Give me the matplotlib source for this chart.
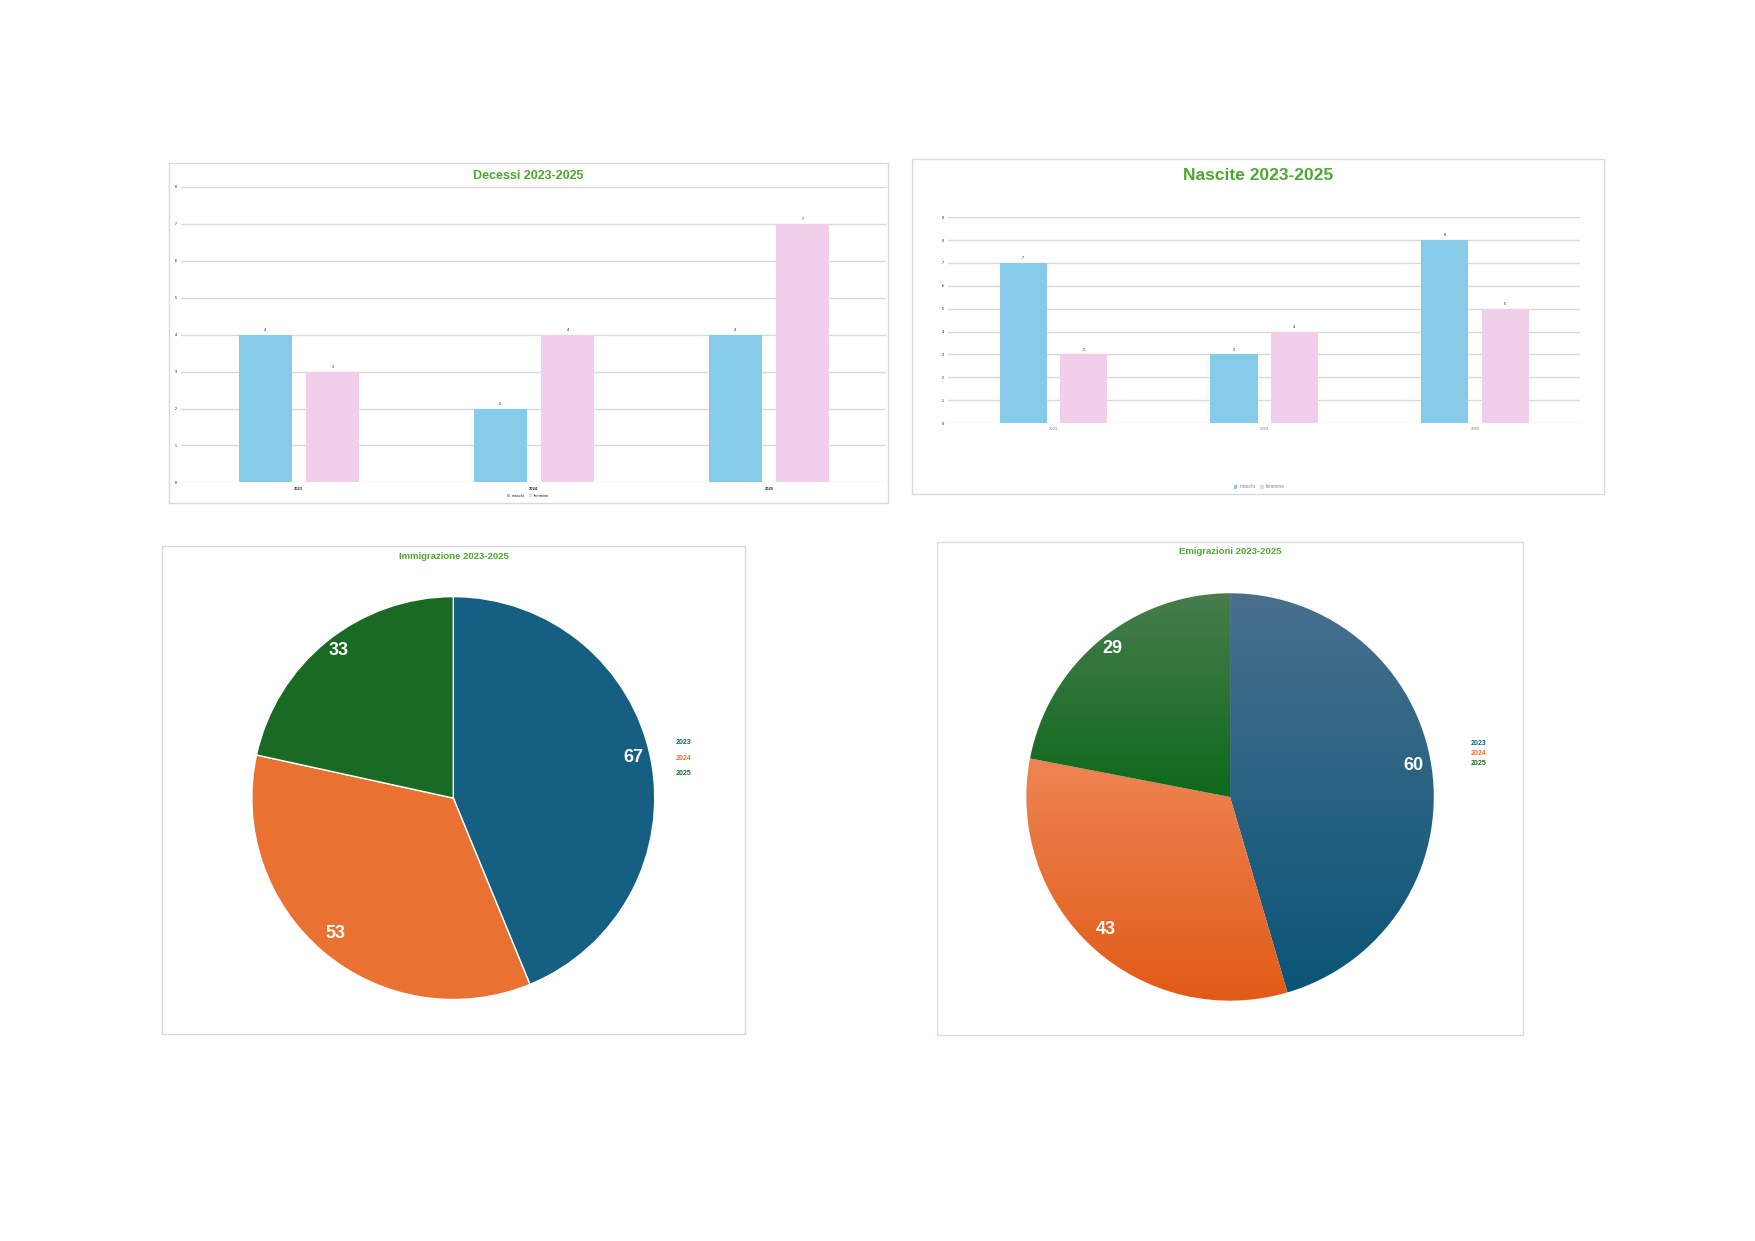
import matplotlib
matplotlib.use("Agg")
import matplotlib.pyplot as plt
from matplotlib.patches import Rectangle
from matplotlib.colors import to_rgb
import numpy as np

plt.rcParams['font.family'] = ['Liberation Sans', 'DejaVu Sans']

# data
anni = ['2023', '2024', '2025']
decessi_maschi = [4, 2, 4]
decessi_femmine = [3, 4, 7]
nascite_maschi = [7, 3, 8]
nascite_femmine = [3, 4, 5]
immigrazione = [67, 53, 33]
emigrazioni = [60, 43, 29]
serie = ['maschi', 'femmine']

# colours
BLU_BAR = '#87cbea'
ROSA_BAR = '#f1cfeb'
VERDE_TIT = '#4ea72e'
PIE_COL = ['#156082', '#e97132', '#196b24']
GRAD_TOP = ['#48708d', '#ee8454', '#487d4d']
GRAD_BOT = ['#0a5577', '#e05b16', '#0d691b']
GRID = '#d9d9d9'

# layout is measured on a 1568 px wide copy of the page
W, H = 1568.0, 1108.7


def fx(x):
    return x / W


def fy(y):
    return 1 - y / H


def box(x0, y0, x1, y1):
    return [fx(x0), fy(y1), fx(x1) - fx(x0), fy(y0) - fy(y1)]


fig = plt.figure(figsize=(17.55, 12.41), dpi=100)
fig.patch.set_facecolor('white')


def cornice(x0, y0, x1, y1, col=GRID):
    fig.patches.append(Rectangle((fx(x0), fy(y1)), fx(x1) - fx(x0), fy(y0) - fy(y1),
                                 transform=fig.transFigure, fill=False, ec=col, lw=1.0))


def barre(rect, maschi, femmine, ymax, lab_w, tick_col):
    ax = fig.add_axes(rect)
    x = np.arange(len(anni))
    w = 0.224
    off = 0.143
    b1 = ax.bar(x - off, maschi, w, color=BLU_BAR, label=serie[0], zorder=2)
    b2 = ax.bar(x + off, femmine, w, color=ROSA_BAR, label=serie[1], zorder=2)
    for bars in (b1, b2):
        ax.bar_label(bars, padding=2, fontsize=2.5, color='black')
    ax.set_xlim(-0.5, 2.5)
    ax.set_ylim(0, ymax)
    ax.set_yticks(range(ymax + 1))
    ax.set_xticks(x)
    ax.set_xticklabels(anni, fontsize=3, color=tick_col, fontweight=lab_w)
    ax.tick_params(axis='y', labelsize=2.5, length=0, pad=3, labelcolor='black')
    ax.tick_params(axis='x', length=0, pad=3)
    ax.grid(axis='y', color=GRID, lw=1.0, zorder=0)
    for s in ax.spines.values():
        s.set_visible(False)
    return ax


# Decessi
cornice(151, 146, 793, 449)
ax1 = barre(box(162, 167, 792, 431), decessi_maschi, decessi_femmine, 8, 'bold', '#222222')
fig.text(fx(472), fy(157), 'Decessi 2023-2025', ha='center', va='center',
         fontsize=9, fontweight='bold', color=VERDE_TIT)
fig.legend(*ax1.get_legend_handles_labels(), loc='center', bbox_to_anchor=(fx(472), fy(443)),
           ncol=2, frameon=False, fontsize=3, handlelength=0.8, handleheight=0.8,
           handletextpad=0.4, columnspacing=1.0, labelcolor='#222222')

# Nascite
cornice(815, 142, 1433, 441)
ax2 = barre(box(847, 194, 1412, 378), nascite_maschi, nascite_femmine, 9, 'normal', '#777777')
fig.text(fx(1124), fy(157), 'Nascite 2023-2025', ha='center', va='center',
         fontsize=12.5, fontweight='bold', color=VERDE_TIT)
fig.legend(*ax2.get_legend_handles_labels(), loc='center', bbox_to_anchor=(fx(1125), fy(435)),
           ncol=2, frameon=False, fontsize=3.5, handlelength=0.8, handleheight=0.8,
           handletextpad=0.4, columnspacing=1.0, labelcolor='#888888')


def torta(cx, cy, r, valori, titolo, tit_xy, leg_x, leg_y, gradiente):
    k = 1.05
    ax = fig.add_axes(box(cx - r * k, cy - r * k, cx + r * k, cy + r * k))
    if gradiente:
        wp = dict(edgecolor='none')
    else:
        wp = dict(edgecolor='white', linewidth=1.0)
    wedges, _, auto = ax.pie(valori, colors=PIE_COL, startangle=90, counterclock=False,
                             autopct=lambda p: '%d' % round(p * sum(valori) / 100),
                             pctdistance=0.91, wedgeprops=wp,
                             textprops=dict(color='white', fontsize=13, fontweight='bold'))
    if gradiente:
        t = np.linspace(0, 1, 256)[:, None, None]
        for wdg, c0, c1 in zip(wedges, GRAD_TOP, GRAD_BOT):
            ext = wdg.get_path().get_extents()
            img = (1 - t) * np.array(to_rgb(c0)) + t * np.array(to_rgb(c1))
            img = np.repeat(img, 2, axis=1)
            im = ax.imshow(img, extent=[ext.x0, ext.x1, ext.y0, ext.y1], origin='upper',
                           aspect='auto', zorder=1, interpolation='bilinear')
            im.set_clip_path(wdg)
            wdg.set_facecolor('none')
    for a in auto:
        a.set_zorder(5)
        xx, yy = a.get_position()
        a.set_position((xx, yy + 0.025))
    ax.set_xlim(-k, k)
    ax.set_ylim(-k, k)
    ax.set_aspect('equal')
    ax.axis('off')
    fig.text(fx(tit_xy[0]), fy(tit_xy[1]), titolo, ha='center', va='center',
             fontsize=6.8, fontweight='bold', color=VERDE_TIT)
    for anno, col, yy in zip(anni, PIE_COL, leg_y):
        fig.text(fx(leg_x), fy(yy), anno, ha='left', va='center', fontsize=5,
                 fontweight='bold', color=col)


# Immigrazione
cornice(145, 488, 666, 924)
torta(405, 713, 180, immigrazione, 'Immigrazione 2023-2025', (406, 497), 604, [663, 678, 691], False)

# Emigrazioni
cornice(837, 484, 1361, 925, col='#d6e0ec')
torta(1099, 712, 182, emigrazioni, 'Emigrazioni 2023-2025', (1099, 493), 1314, [664, 673, 682], True)

fig.savefig('out.png', dpi=100)
